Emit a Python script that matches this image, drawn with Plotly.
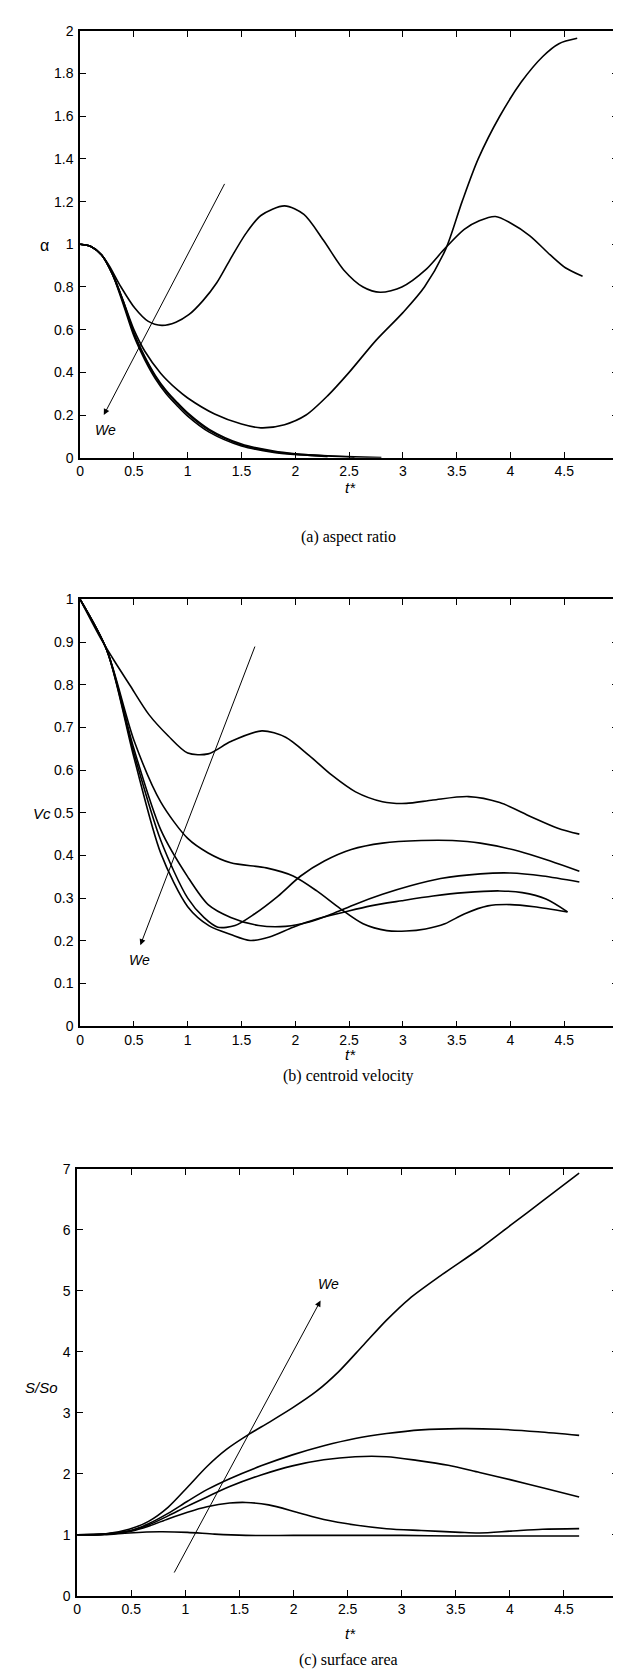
import plotly.graph_objects as go

W, H = 621, 1674

# ---- (a) aspect ratio ----
a_t1 = [0, 0.1, 0.2, 0.27, 0.38, 0.51, 0.63, 0.76, 0.89, 1.01, 1.14, 1.27, 1.39, 1.54, 1.68, 1.9,
        2.08, 2.26, 2.45, 2.63, 2.79, 2.99, 3.21, 3.39, 3.57, 3.71, 3.86, 4.0, 4.18, 4.37, 4.51, 4.67]
a_y1 = [1.0, 0.99, 0.95, 0.9, 0.8, 0.7, 0.64, 0.62, 0.635, 0.67, 0.735, 0.82, 0.925, 1.05, 1.135, 1.18,
        1.14, 1.02, 0.88, 0.8, 0.775, 0.8, 0.88, 0.98, 1.07, 1.11, 1.13, 1.1, 1.04, 0.95, 0.89, 0.85]
a_t2 = [0, 0.1, 0.2, 0.3, 0.4, 0.5, 0.6, 0.75, 0.9, 1.0, 1.25, 1.5, 1.68, 1.9, 2.1, 2.3, 2.5,
        2.75, 3.0, 3.2, 3.4, 3.55, 3.7, 3.9, 4.1, 4.3, 4.45, 4.62]
a_y2 = [1.0, 0.99, 0.95, 0.86, 0.735, 0.6, 0.5, 0.395, 0.32, 0.28, 0.205, 0.158, 0.14, 0.155, 0.2,
        0.29, 0.4, 0.55, 0.68, 0.8, 0.98, 1.2, 1.4, 1.6, 1.76, 1.88, 1.94, 1.965]
a_t3 = [0, 0.1, 0.2, 0.3, 0.4, 0.5, 0.6, 0.7, 0.8, 0.9, 1.0, 1.2, 1.5, 1.8, 2.0, 2.3]
a_y3 = [1.0, 0.99, 0.95, 0.86, 0.72, 0.57, 0.46, 0.37, 0.3, 0.245, 0.195, 0.12, 0.055, 0.025, 0.015, 0.005]
a_t4 = [0, 0.1, 0.2, 0.3, 0.4, 0.5, 0.6, 0.7, 0.8, 0.9, 1.0, 1.2, 1.5, 1.8, 2.0, 2.3, 2.55]
a_y4 = [1.0, 0.99, 0.95, 0.86, 0.73, 0.58, 0.47, 0.38, 0.31, 0.255, 0.205, 0.128, 0.06, 0.028,
        0.017, 0.008, 0.003]
a_t5 = [0, 0.1, 0.2, 0.3, 0.4, 0.5, 0.6, 0.7, 0.8, 0.9, 1.0, 1.2, 1.5, 1.8, 2.0, 2.3, 2.55, 2.8]
a_y5 = [1.0, 0.99, 0.95, 0.865, 0.735, 0.585, 0.475, 0.385, 0.315, 0.26, 0.21, 0.133, 0.064,
        0.031, 0.019, 0.009, 0.004, 0.001]

# ---- (b) centroid velocity ----
b_t1 = [0, 0.2, 0.32, 0.46, 0.64, 0.82, 1.0, 1.19, 1.4, 1.69, 1.91, 2.13, 2.34, 2.56, 2.81, 3.03,
        3.28, 3.61, 3.9, 4.19, 4.44, 4.64]
b_y1 = [1.0, 0.905, 0.855, 0.8, 0.73, 0.68, 0.64, 0.638, 0.667, 0.692, 0.677, 0.634, 0.588, 0.549,
        0.526, 0.522, 0.53, 0.538, 0.524, 0.491, 0.464, 0.45]
b_t2 = [0, 0.25, 0.5, 0.75, 1.0, 1.19, 1.4, 1.73, 1.98, 2.2, 2.42, 2.63, 2.85, 3.03, 3.21, 3.39,
        3.57, 3.79, 4.0, 4.22, 4.53]
b_y2 = [1.0, 0.88, 0.67, 0.525, 0.44, 0.406, 0.383, 0.371, 0.352, 0.317, 0.275, 0.24, 0.224, 0.223,
        0.228, 0.24, 0.263, 0.282, 0.285, 0.28, 0.268]
b_t3 = [0, 0.25, 0.5, 0.75, 1.0, 1.15, 1.28, 1.44, 1.62, 1.84, 2.05, 2.27, 2.52, 2.81, 3.17, 3.46,
        3.72, 4.08, 4.37, 4.64]
b_y3 = [1.0, 0.88, 0.64, 0.435, 0.3, 0.255, 0.232, 0.236, 0.263, 0.305, 0.352, 0.387, 0.414, 0.429,
        0.435, 0.435, 0.429, 0.41, 0.387, 0.363]
b_t4 = [0, 0.25, 0.5, 0.75, 1.0, 1.19, 1.4, 1.66, 1.91, 2.13, 2.34, 2.56, 2.81, 3.07, 3.35, 3.72,
        4.0, 4.3, 4.64]
b_y4 = [1.0, 0.88, 0.65, 0.46, 0.35, 0.285, 0.255, 0.236, 0.234, 0.244, 0.263, 0.286, 0.309, 0.329,
        0.346, 0.357, 0.359, 0.352, 0.338]
b_t5 = [0, 0.25, 0.5, 0.75, 1.0, 1.2, 1.4, 1.58, 1.76, 1.98, 2.2, 2.45, 2.7, 2.99, 3.28, 3.57, 3.9,
        4.11, 4.33, 4.53]
b_y5 = [1.0, 0.88, 0.63, 0.405, 0.28, 0.235, 0.215, 0.201, 0.209, 0.232, 0.251, 0.267, 0.282, 0.294,
        0.305, 0.313, 0.317, 0.313, 0.298, 0.268]

# ---- (c) surface area ----
c_t1 = [0, 0.25, 0.48, 0.66, 0.84, 1.02, 1.2, 1.38, 1.59, 1.77, 1.99, 2.21, 2.42, 2.64, 2.86, 3.07,
        3.36, 3.72, 4.01, 4.3, 4.64]
c_y1 = [1.0, 1.01, 1.09, 1.22, 1.45, 1.78, 2.12, 2.4, 2.65, 2.84, 3.08, 3.35, 3.68, 4.1, 4.52,
        4.87, 5.25, 5.69, 6.08, 6.47, 6.93]
c_t2 = [0, 0.25, 0.5, 0.66, 0.84, 1.02, 1.2, 1.41, 1.7, 1.99, 2.28, 2.57, 2.86, 3.18, 3.54, 3.9,
        4.26, 4.64]
c_y2 = [1.0, 1.01, 1.07, 1.18, 1.35, 1.55, 1.74, 1.92, 2.13, 2.31, 2.46, 2.58, 2.66, 2.72, 2.74,
        2.73, 2.69, 2.63]
c_t3 = [0, 0.25, 0.5, 0.66, 0.84, 1.02, 1.2, 1.41, 1.7, 1.99, 2.28, 2.57, 2.86, 3.14, 3.43, 3.72,
        4.01, 4.33, 4.64]
c_y3 = [1.0, 1.01, 1.07, 1.16, 1.31, 1.47, 1.62, 1.79, 1.98, 2.13, 2.23, 2.28, 2.28, 2.22, 2.14,
        2.02, 1.9, 1.76, 1.62]
c_t4 = [0, 0.25, 0.5, 0.66, 0.84, 1.02, 1.2, 1.41, 1.56, 1.77, 2.03, 2.28, 2.57, 2.86, 3.18, 3.54,
        3.72, 4.01, 4.3, 4.64]
c_y4 = [1.0, 1.01, 1.06, 1.14, 1.26, 1.37, 1.46, 1.52, 1.53, 1.49, 1.37, 1.25, 1.16, 1.1, 1.07,
        1.04, 1.03, 1.06, 1.09, 1.1]
c_t5 = [0, 0.25, 0.48, 0.76, 1.02, 1.27, 1.56, 2.0, 2.5, 3.0, 3.5, 4.0, 4.64]
c_y5 = [1.0, 1.0, 1.03, 1.05, 1.04, 1.01, 0.99, 0.99, 0.99, 0.99, 0.98, 0.98, 0.98]

panels = [
    ("x", "y", [(a_t1, a_y1), (a_t2, a_y2), (a_t3, a_y3), (a_t4, a_y4), (a_t5, a_y5)]),
    ("x2", "y2", [(b_t1, b_y1), (b_t2, b_y2), (b_t3, b_y3), (b_t4, b_y4), (b_t5, b_y5)]),
    ("x3", "y3", [(c_t1, c_y1), (c_t2, c_y2), (c_t3, c_y3), (c_t4, c_y4), (c_t5, c_y5)]),
]


def px(x):
    return x / W


def py(y):
    return 1 - y / H


fig = go.Figure()
for xa, ya, curves in panels:
    for t, v in curves:
        fig.add_trace(go.Scatter(x=t, y=v, xaxis=xa, yaxis=ya, mode="lines",
                                 line=dict(color="black", width=1.6, shape="spline", smoothing=0.8),
                                 showlegend=False, hoverinfo="skip"))

tickfont = dict(family="Liberation Sans, Arial", size=14, color="black")
RIGHT = 614


def xaxis(anchor, left):
    return dict(domain=[px(left), px(RIGHT)], anchor=anchor, range=[0, 5], dtick=0.5, tick0=0,
                ticks="inside", ticklen=6, tickcolor="black", mirror="ticks", showline=True,
                linecolor="black", linewidth=1.5, showgrid=False, zeroline=False, tickfont=tickfont)


def yaxis(anchor, top, bottom, rng, dt):
    return dict(domain=[py(bottom), py(top)], anchor=anchor, range=rng, dtick=dt, tick0=0,
                ticks="inside", ticklen=6, tickcolor="black", mirror="ticks", showline=True,
                linecolor="black", linewidth=1.5, showgrid=False, zeroline=False, tickfont=tickfont,
                ticklabelstandoff=2)


fig.update_layout(
    width=W, height=H, margin=dict(l=0, r=0, t=0, b=0),
    paper_bgcolor="white", plot_bgcolor="white",
    xaxis=xaxis("y", 69), yaxis=yaxis("x", 15, 446, [0, 2], 0.2),
    xaxis2=xaxis("y2", 69), yaxis2=yaxis("x2", 589, 1020, [0, 1], 0.1),
    xaxis3=xaxis("y3", 66), yaxis3=yaxis("x3", 1164, 1595, [0, 7], 1),
)

lab = dict(family="Liberation Sans, Arial", size=15, color="black")
cap = dict(family="Liberation Serif, Times New Roman", size=16, color="black")
texts = [
    ("α", 33, 232, dict(lab, size=16)), ("<i>Vc</i>", 30, 805, lab), ("<i>S/So</i>", 30, 1385, lab),
    ("<i>t*</i>", 343, 476, lab), ("<i>t*</i>", 343, 1049, lab), ("<i>t*</i>", 343, 1633, lab),
    ("(a) aspect ratio", 341, 526, cap), ("(b) centroid velocity", 341, 1070, cap),
    ("(c) surface area", 341, 1660, cap),
]
for txt, x, y, f in texts:
    fig.add_annotation(text=txt, x=px(x), y=py(y), xref="paper", yref="paper",
                       showarrow=False, font=f, xanchor="center", yanchor="middle")

# We arrows (head, tail) in data coordinates
arrows = [
    ("x", "y", (0.22, 0.2), (1.35, 1.29), (0.24, 0.13)),
    ("x2", "y2", (0.56, 0.19), (1.63, 0.893), (0.55, 0.155)),
    ("x3", "y3", (2.25, 4.84), (0.89, 0.356), (2.32, 5.12)),
]
for xa, ya, head, tail, wpos in arrows:
    fig.add_annotation(x=head[0], y=head[1], ax=tail[0], ay=tail[1], xref=xa, yref=ya,
                       axref=xa, ayref=ya, text="", showarrow=True, arrowhead=2,
                       arrowsize=1.2, arrowwidth=1, arrowcolor="black")
    fig.add_annotation(x=wpos[0], y=wpos[1], xref=xa, yref=ya, text="<i>We</i>",
                       showarrow=False, font=dict(family="Liberation Sans, Arial", size=14,
                                                  color="black"))

fig.write_html("out.html")
